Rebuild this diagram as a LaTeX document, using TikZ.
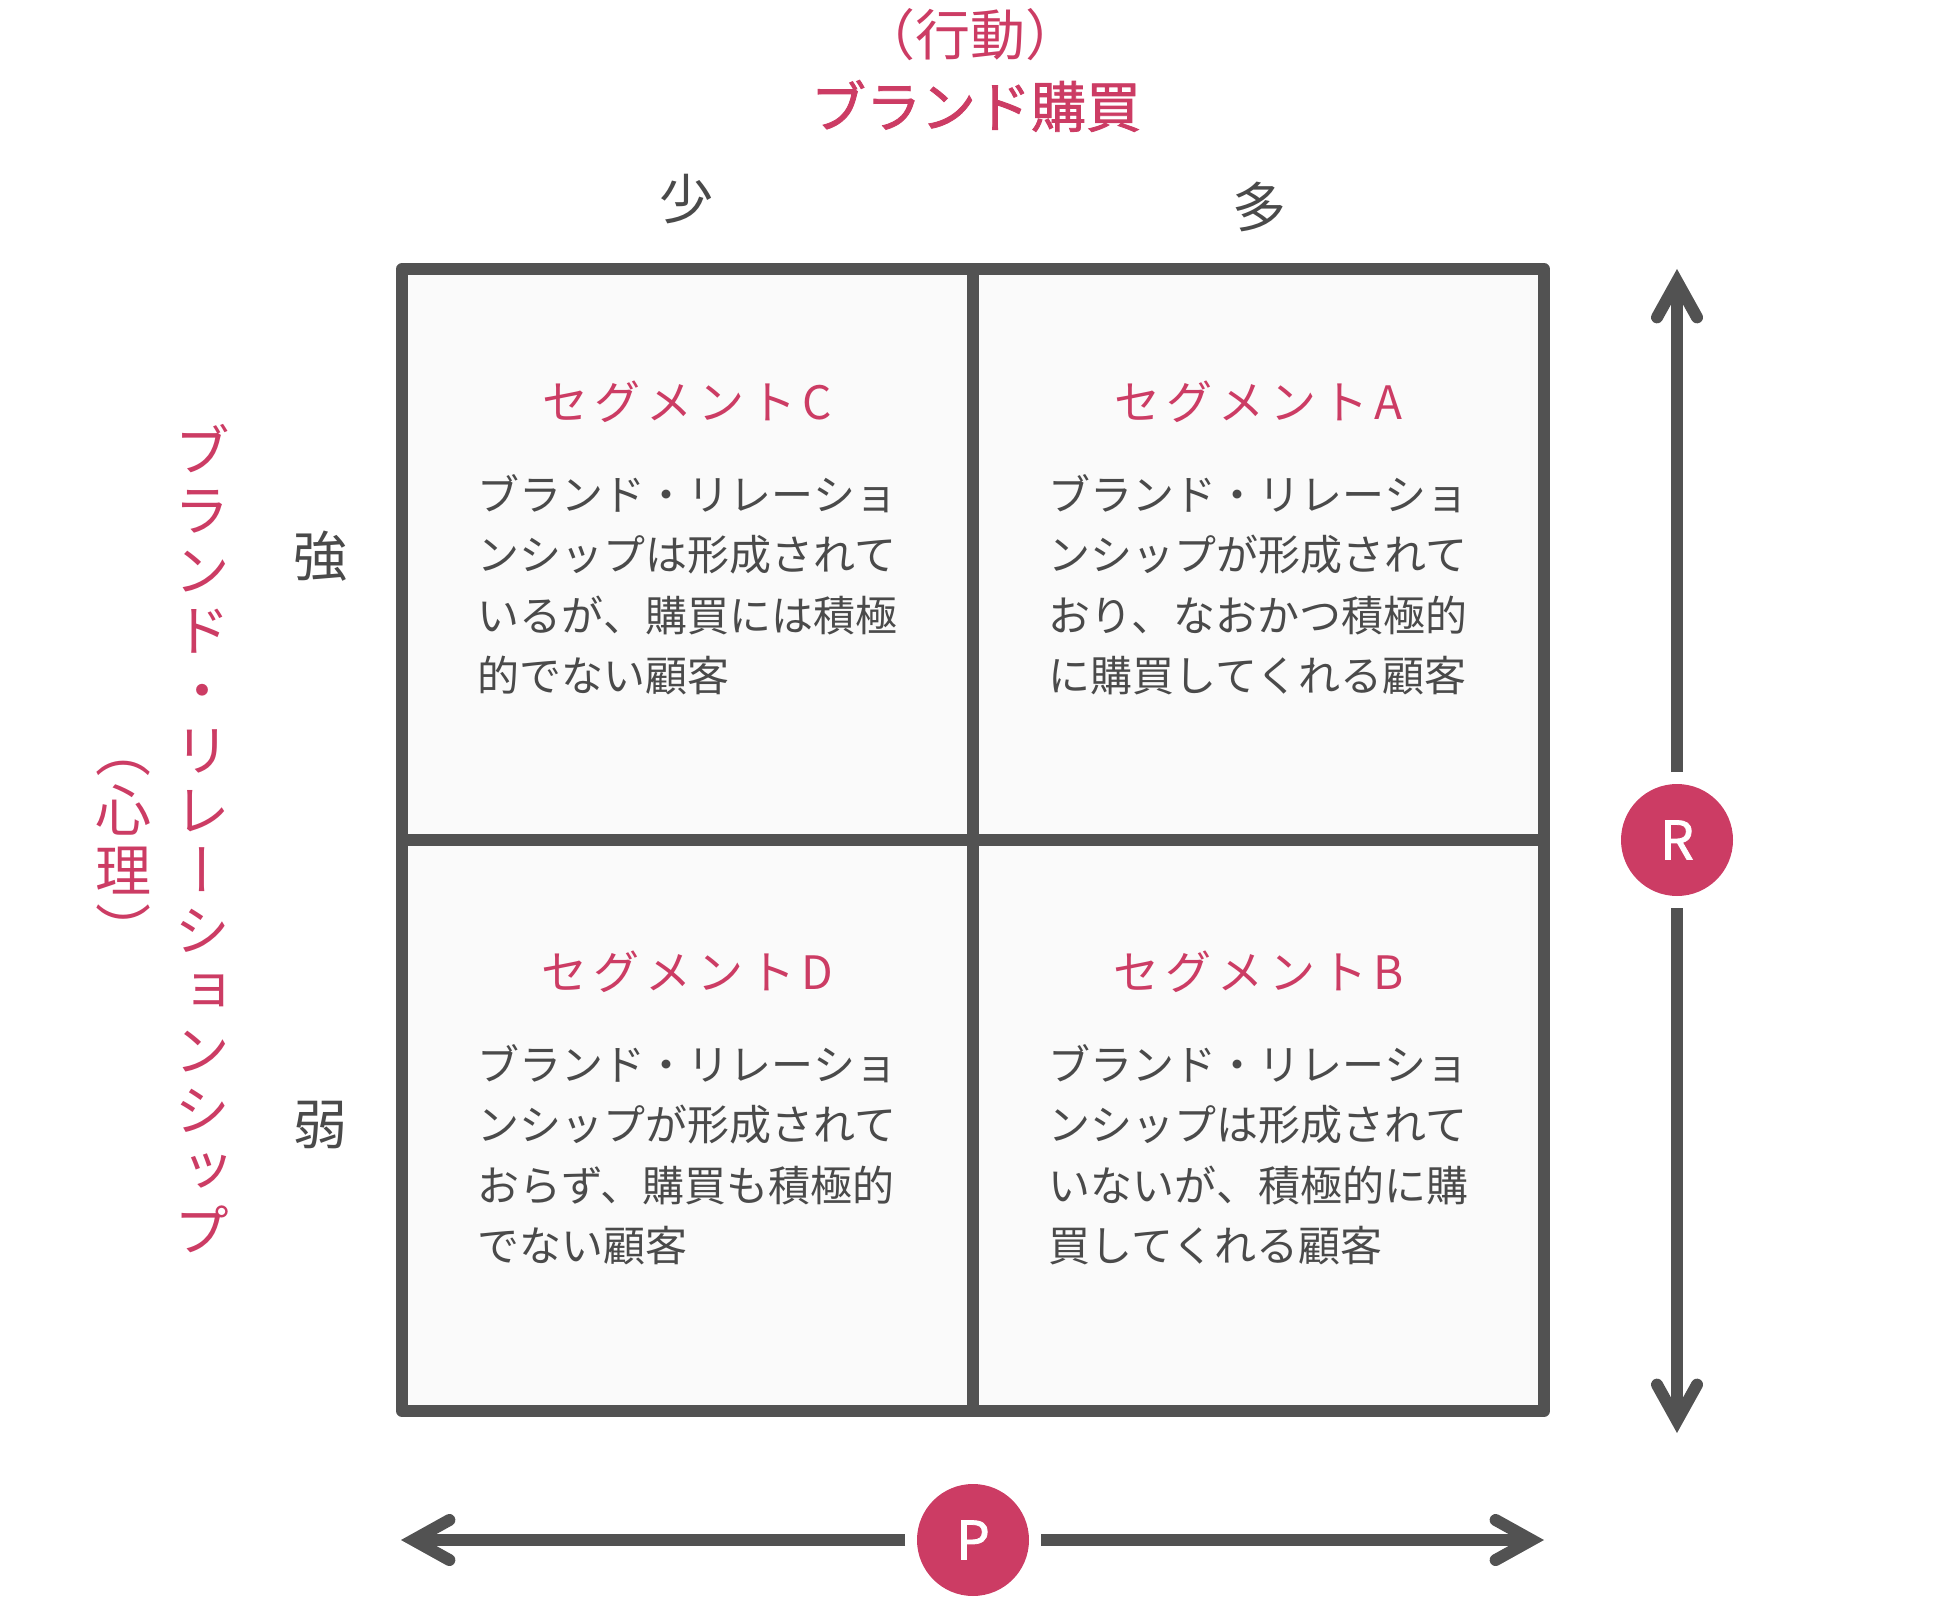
\documentclass[tikz,border=0pt]{standalone}
\usepackage{fontspec}
\setmainfont{Noto Sans CJK JP}
\newfontfamily\tatefont[RawFeature=+vert]{Noto Sans CJK JP}
\newfontfamily\heavyfont[FakeBold=1.5]{Noto Sans CJK JP}
\usetikzlibrary{arrows.meta}

\definecolor{rose}{HTML}{CC3C64}
\definecolor{frame}{HTML}{525252}
\definecolor{inkgray}{HTML}{4A4A4A}
\definecolor{cellbg}{HTML}{FAFAFA}

\newcommand{\emstrut}{\vrule width 0pt height 0.88em depth 0.12em}

\tikzset{
  gridline/.style={draw=frame, line width=6pt, line join=round},
  axisarrow/.style={draw=frame, line width=6pt,
    -{Straight Barb[length=18pt, width=20pt, line cap=round, line join=miter]}},
  segtitle/.style={text=rose, inner sep=0pt,
    font=\fontsize{23}{28}\selectfont\addfontfeature{LetterSpace=13}},
  segbody/.style={text=inkgray, inner sep=0pt, align=left, anchor=north west,
    font=\fontsize{21}{30.25}\selectfont},
  axislabel/.style={text=inkgray, inner sep=0pt, font=\fontsize{27}{30}\selectfont},
  tatetext/.style={text=rose, inner sep=0pt, align=center,
    font=\tatefont\fontsize{28}{30}\selectfont},
  pmark/.style={circle, fill=rose, minimum size=56pt, inner sep=0pt, outer sep=6pt,
    text=white, font=\heavyfont\fontsize{26.5}{30}\selectfont},
}

\begin{document}
\begin{tikzpicture}[x=0.5pt, y=-0.5pt]
    \useasboundingbox (0,0) rectangle (1950,1610);
    % 見出し
    \node[text=rose, inner sep=0pt, font=\fontsize{27.5}{30}\selectfont] (act) at (970,35) {（行動）};
    \node[text=rose, inner sep=0pt, font=\heavyfont\fontsize{27.5}{30}\selectfont] (buy) at (976,106) {ブランド購買};
    \node[tatetext] (rel) at (202,840) {\emstrut ブ\\ラ\\ン\\ド\\・\\リ\\レ\\ー\\シ\\ョ\\ン\\シ\\ッ\\プ\emstrut};
    \node[tatetext] (mind) at (123,840) {\emstrut（\\心\\理\\）\emstrut};
    % 軸ラベル
    \node[axislabel] (few) at (686,199) {少};
    \node[axislabel] (many) at (1259,207) {多};
    \node[axislabel] (strong) at (320,556) {強};
    \node[axislabel] (weak) at (320,1125) {弱};
    % マトリクス
    \draw[gridline, fill=cellbg] (402,269) rectangle (1544,1411);
    \draw[gridline] (973,269) -- (973,1411);
    \draw[gridline] (402,840) -- (1544,840);
    % セグメント名
    \foreach \seg/\cx/\cy in {C/687.5/402, A/1258.5/402, D/687.5/972, B/1258.5/972} {
        \node[segtitle] (title\seg) at (\cx,\cy) {セグメント\seg};
    }
    % 説明文
    \node[segbody] (bodyC) at (477.5,473) {\emstrut ブランド・リレーショ\\ンシップは形成されて\\いるが、購買には積極\\的でない顧客};
    \node[segbody] (bodyA) at (1048.5,473) {\emstrut ブランド・リレーショ\\ンシップが形成されて\\おり、なおかつ積極的\\に購買してくれる顧客};
    \node[segbody] (bodyD) at (477.5,1043) {\emstrut ブランド・リレーショ\\ンシップが形成されて\\おらず、購買も積極的\\でない顧客};
    \node[segbody] (bodyB) at (1048.5,1043) {\emstrut ブランド・リレーショ\\ンシップは形成されて\\いないが、積極的に購\\買してくれる顧客};
    % P, R の矢印
    \node[pmark] (R) at (1677,840) {R};
    \node[pmark] (P) at (973,1540) {P};
    \coordinate (rtop) at (1677,269);
    \coordinate (rbot) at (1677,1433);
    \coordinate (pleft) at (401,1540);
    \coordinate (pright) at (1544,1540);
    \draw[axisarrow] (R) -- (rtop);
    \draw[axisarrow] (R) -- (rbot);
    \draw[axisarrow] (P) -- (pleft);
    \draw[axisarrow] (P) -- (pright);
\end{tikzpicture}
\end{document}
